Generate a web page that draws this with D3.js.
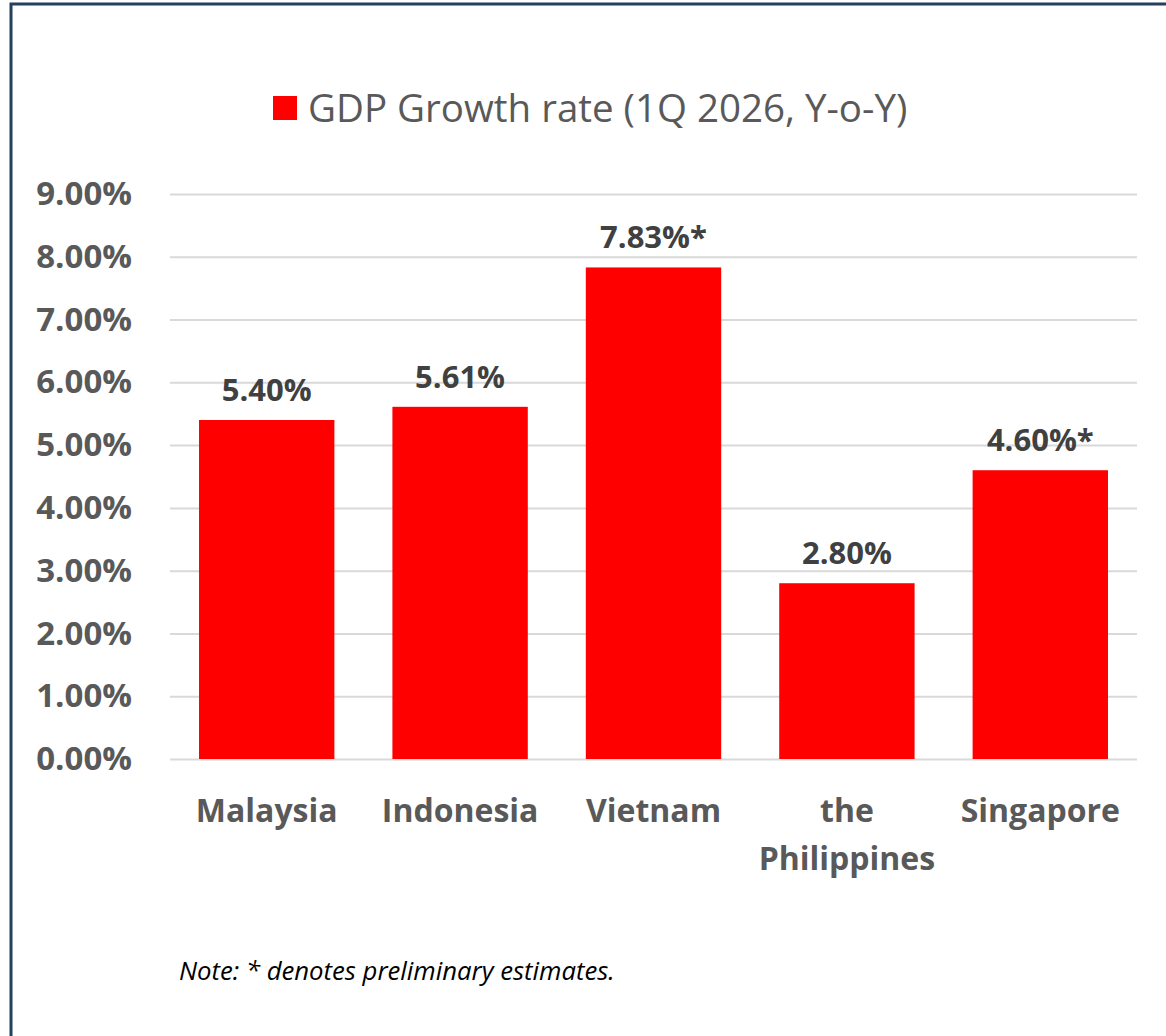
<!DOCTYPE html>
<html>
<head>
<meta charset="utf-8">
<script src="https://cdn.jsdelivr.net/npm/d3@7"></script>
<style>
  html, body { margin: 0; padding: 0; background: #fff; }
  svg { display: block; }
</style>
</head>
<body>
<svg id="chart" width="1166" height="1036"></svg>
<script>
// GDP growth, 1Q 2026 year-on-year
const countries = ["Malaysia", "Indonesia", "Vietnam", "the\nPhilippines", "Singapore"];
const growth = [5.40, 5.61, 7.83, 2.80, 4.60];
const preliminary = [false, false, true, false, true];
const yTicks = [0, 1, 2, 3, 4, 5, 6, 7, 8, 9];
const seriesName = "GDP Growth rate (1Q 2026, Y-o-Y)";
const noteText = "Note: * denotes preliminary estimates.";

const W = 1166, H = 1036;
const plot = { left: 170, right: 1137, top: 194, bottom: 759 };
const FONT = "'Open Sans', 'Noto Sans', sans-serif";
const svg = d3.select("#chart");

// outer frame
svg.append("rect")
  .attr("x", 11).attr("y", 4)
  .attr("width", W + 20).attr("height", H + 20)
  .attr("fill", "#fff").attr("stroke", "#24405a").attr("stroke-width", 3);

const x = d3.scaleBand()
  .domain(countries)
  .range([plot.left, plot.right])
  .paddingInner(0.3).paddingOuter(0.15);

const y = d3.scaleLinear()
  .domain([0, 9])
  .range([plot.bottom, plot.top]);

// gridlines + tick labels
const yAxis = d3.axisLeft(y)
  .tickValues(yTicks)
  .tickSize(-(plot.right - plot.left))
  .tickPadding(38)
  .tickFormat(d => d3.format(".2f")(d) + "%");

const gy = svg.append("g")
  .attr("transform", `translate(${plot.left},0)`)
  .call(yAxis);
gy.select(".domain").remove();
gy.selectAll(".tick line").attr("stroke", "#d9d9d9").attr("stroke-width", 2);
gy.selectAll(".tick text")
  .attr("fill", "#595959")
  .style("font-family", FONT)
  .style("font-weight", 700)
  .style("font-size", "33px");

// bars
svg.append("g").selectAll("rect")
  .data(growth)
  .join("rect")
  .attr("x", (d, i) => x(countries[i]))
  .attr("width", x.bandwidth())
  .attr("y", d => y(d))
  .attr("height", d => y(0) - y(d))
  .attr("fill", "#ff0000");

// value labels
svg.append("g").selectAll("text")
  .data(growth)
  .join("text")
  .attr("x", (d, i) => x(countries[i]) + x.bandwidth() / 2)
  .attr("y", d => y(d) - 19)
  .attr("text-anchor", "middle")
  .attr("fill", "#404040")
  .style("font-family", FONT)
  .style("font-weight", 700)
  .style("font-size", "31px")
  .text((d, i) => d.toFixed(2) + "%" + (preliminary[i] ? "*" : ""));

// category labels
const xAxis = d3.axisBottom(x).tickSize(0).tickPadding(0);
const gx = svg.append("g")
  .attr("transform", `translate(0,${y(0)})`)
  .call(xAxis);
gx.select(".domain").remove();
gx.selectAll(".tick text").each(function(d) {
  const t = d3.select(this).text(null)
    .attr("y", 0)
    .attr("dy", null)
    .attr("fill", "#595959")
    .style("font-family", FONT)
    .style("font-weight", 700)
    .style("font-size", "32px");
  d.split("\n").forEach((line, k) => {
    t.append("tspan").attr("x", 0).attr("y", 63 + k * 48).text(line);
  });
});

// legend
const lg = svg.append("g");
lg.append("rect")
  .attr("x", 273).attr("y", 96).attr("width", 24).attr("height", 24)
  .attr("fill", "#ff0000");
lg.append("text")
  .attr("x", 308).attr("y", 122)
  .attr("fill", "#595959")
  .style("font-family", FONT)
  .style("font-size", "38.5px")
  .text(seriesName);

// footnote
svg.append("text")
  .attr("x", 179).attr("y", 980)
  .attr("fill", "#000")
  .style("font-family", FONT)
  .style("font-style", "italic")
  .style("font-size", "25.7px")
  .text(noteText);
</script>
</body>
</html>
